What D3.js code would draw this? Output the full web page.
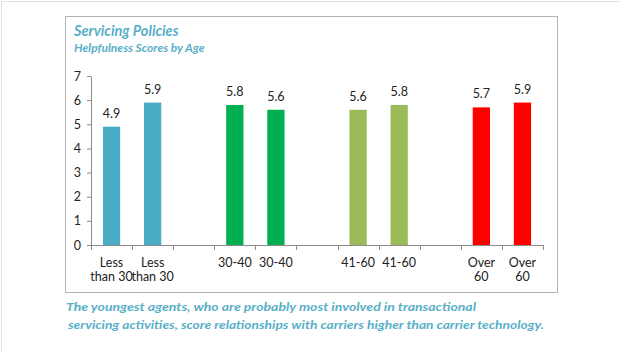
<!DOCTYPE html>
<html>
<head>
<meta charset="utf-8">
<script src="https://cdn.jsdelivr.net/npm/d3@7"></script>
<style>
  body { margin: 0; background: #fff; }
  text { font-family: Lato, "Open Sans", sans-serif; }
</style>
</head>
<body>
<div id="chart"></div>
<script>
// categories (empty slots are the gaps between age groups)
var categories = ["Less\nthan 30", "Less\nthan 30", "", "30-40", "30-40", "", "41-60", "41-60", "", "Over\n60", "Over\n60"];
var scores = [4.9, 5.9, null, 5.8, 5.6, null, 5.6, 5.8, null, 5.7, 5.9];
var barColors = ["#4bacc6", "#4bacc6", null, "#00b050", "#00b050", null, "#9bbb59", "#9bbb59", null, "#ff0000", "#ff0000"];
var yTicks = [0, 1, 2, 3, 4, 5, 6, 7];
var title = "Servicing Policies";
var subtitle = "Helpfulness Scores by Age";
var caption = [
  "The youngest agents, who are probably most involved in transactional",
  "servicing activities, score relationships with carriers higher than carrier technology."
];

var w = 620, h = 353;
var teal = "#58afc7";

var svg = d3.select("#chart").append("svg")
  .attr("width", w)
  .attr("height", h);

// faint page frame (top and left)
svg.append("path")
  .attr("d", "M1.5,353V1.5H620")
  .attr("fill", "none")
  .attr("stroke", "#e2e2e2");

// chart box
svg.append("rect")
  .attr("x", 65.5).attr("y", 16.5)
  .attr("width", 492).attr("height", 276)
  .attr("fill", "#fff")
  .attr("stroke", "#b4b4b4");

svg.append("text")
  .attr("x", 74).attr("y", 36)
  .attr("font-size", 14.5).attr("font-weight", "bold").attr("font-style", "italic")
  .attr("fill", teal)
  .text(title);

svg.append("text")
  .attr("x", 74).attr("y", 52)
  .attr("font-size", 12).attr("font-weight", "bold").attr("font-style", "italic")
  .attr("fill", teal)
  .text(subtitle);

var xScale = d3.scaleBand()
  .domain(d3.range(categories.length))
  .range([91, 543])
  .padding(0);

var yScale = d3.scaleLinear()
  .domain([0, 7])
  .range([245, 76]);

var barW = xScale.bandwidth() * 0.42;

var data = scores.map(function (v, i) { return { i: i, v: v, c: barColors[i] }; })
  .filter(function (d) { return d.v != null; });

svg.append("g").selectAll("rect")
  .data(data)
  .enter()
  .append("rect")
  .attr("x", d => xScale(d.i) + (xScale.bandwidth() - barW) / 2)
  .attr("y", d => yScale(d.v))
  .attr("width", barW)
  .attr("height", d => yScale(0) - yScale(d.v))
  .attr("fill", d => d.c);

// value labels
svg.append("g").selectAll("text")
  .data(data)
  .enter()
  .append("text")
  .attr("x", d => xScale(d.i) + xScale.bandwidth() / 2)
  .attr("y", d => yScale(d.v) - 9)
  .attr("text-anchor", "middle")
  .attr("font-size", 12.5)
  .attr("fill", "#222")
  .text(d => d.v.toFixed(1));

// y axis
var yAxis = d3.axisLeft(yScale)
  .tickValues(yTicks)
  .tickFormat(d3.format("d"))
  .tickSize(4)
  .tickSizeOuter(0)
  .tickPadding(6);

var gy = svg.append("g")
  .attr("transform", "translate(91,0)")
  .call(yAxis);
gy.select(".domain").attr("stroke", "#8c8c8c");
gy.selectAll(".tick line").attr("stroke", "#8c8c8c");
gy.selectAll(".tick text")
  .attr("font-size", 12.5)
  .attr("fill", "#222")
  .style("font-family", "Lato, sans-serif");

// x axis: baseline with ticks at band edges
var edges = d3.range(categories.length + 1).map(i => 91 + i * xScale.step());
svg.append("line")
  .attr("x1", 91).attr("x2", 543)
  .attr("y1", yScale(0) + 0.5).attr("y2", yScale(0) + 0.5)
  .attr("stroke", "#8c8c8c");
svg.append("g").selectAll("line")
  .data(edges)
  .enter()
  .append("line")
  .attr("x1", d => Math.round(d) + 0.5).attr("x2", d => Math.round(d) + 0.5)
  .attr("y1", yScale(0)).attr("y2", yScale(0) + 5)
  .attr("stroke", "#8c8c8c");

var xl = svg.append("g").selectAll("text")
  .data(categories.map((c, i) => ({ i: i, lines: c ? c.split("\n") : [] })))
  .enter()
  .append("text")
  .attr("text-anchor", "middle")
  .attr("font-size", 12.5)
  .attr("fill", "#222");
xl.selectAll("tspan")
  .data(d => d.lines.map((l, k) => ({ i: d.i, l: l, k: k })))
  .enter()
  .append("tspan")
  .attr("x", d => xScale(d.i) + xScale.bandwidth() / 2)
  .attr("y", d => 266.5 + d.k * 14.5)
  .text(d => d.l);

// caption
svg.append("text")
  .attr("x", 66).attr("y", 311)
  .attr("font-size", 12).attr("font-weight", "bold").attr("font-style", "italic")
  .attr("fill", teal)
  .attr("textLength", 410).attr("lengthAdjust", "spacingAndGlyphs")
  .text(caption[0]);
svg.append("text")
  .attr("x", 68).attr("y", 329)
  .attr("font-size", 12).attr("font-weight", "bold").attr("font-style", "italic")
  .attr("fill", teal)
  .attr("textLength", 476).attr("lengthAdjust", "spacingAndGlyphs")
  .text(caption[1]);
</script>
</body>
</html>
